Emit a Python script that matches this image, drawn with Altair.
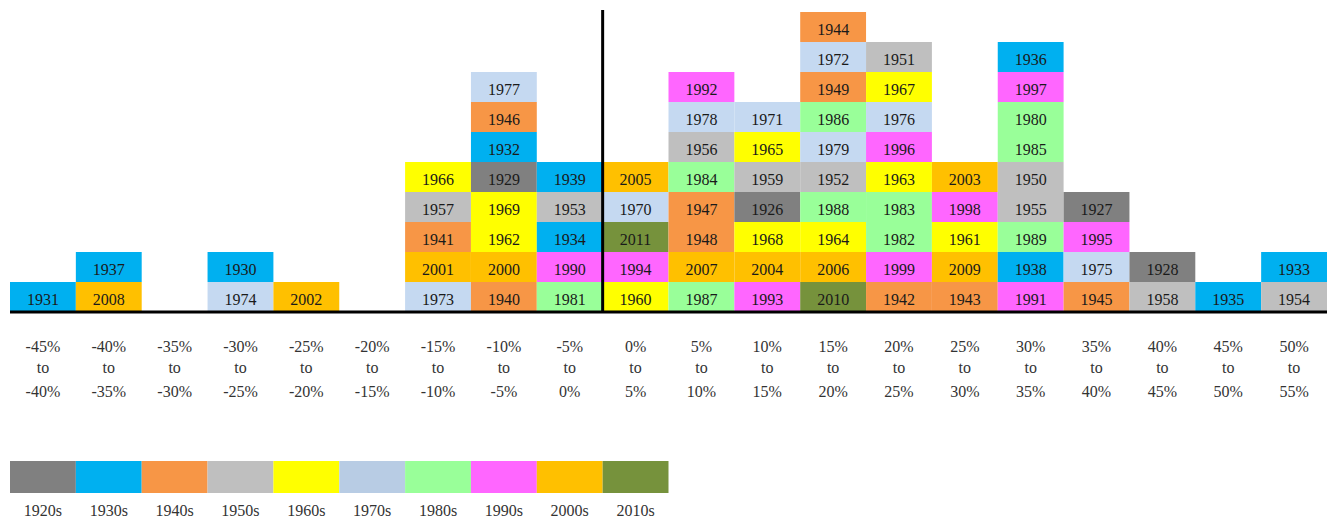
import altair as alt
import pandas as pd

bin_lo = list(range(-45, 55, 5))
columns = [
    [1931],
    [2008, 1937],
    [],
    [1974, 1930],
    [2002],
    [],
    [1973, 2001, 1941, 1957, 1966],
    [1940, 2000, 1962, 1969, 1929, 1932, 1946, 1977],
    [1981, 1990, 1934, 1953, 1939],
    [1960, 1994, 2011, 1970, 2005],
    [1987, 2007, 1948, 1947, 1984, 1956, 1978, 1992],
    [1993, 2004, 1968, 1926, 1959, 1965, 1971],
    [2010, 2006, 1964, 1988, 1952, 1979, 1986, 1949, 1972, 1944],
    [1942, 1999, 1982, 1983, 1963, 1996, 1976, 1967, 1951],
    [1943, 2009, 1961, 1998, 2003],
    [1991, 1938, 1989, 1955, 1950, 1985, 1980, 1997, 1936],
    [1945, 1975, 1995, 1927],
    [1958, 1928],
    [1935],
    [1954, 1933],
]
decades = ["1920s", "1930s", "1940s", "1950s", "1960s",
           "1970s", "1980s", "1990s", "2000s", "2010s"]
box_colors = ["#808080", "#00B0F0", "#F79646", "#BFBFBF", "#FFFF00",
              "#C5D9F1", "#99FF99", "#FF66FF", "#FFC000", "#76923C"]
legend_colors = ["#808080", "#00B0F0", "#F79646", "#BFBFBF", "#FFFF00",
                 "#B8CCE4", "#99FF99", "#FF66FF", "#FFC000", "#76923C"]

FONT = "Liberation Serif"

rows = []
for i, col in enumerate(columns):
    for j, yr in enumerate(col):
        rows.append({"lo": bin_lo[i], "hi": bin_lo[i] + 5, "mid": bin_lo[i] + 2.5,
                     "row": j, "row2": j + 1, "rowc": j + 0.5,
                     "year": str(yr), "decade": f"{yr // 10 * 10}s"})
boxes = pd.DataFrame(rows)

labels = pd.DataFrame({
    "mid": [b + 2.5 for b in bin_lo],
    "l1": [f"{b}%" for b in bin_lo],
    "l2": ["to"] * len(bin_lo),
    "l3": [f"{b + 5}%" for b in bin_lo],
})

legend = pd.DataFrame({
    "decade": decades,
    "lo": bin_lo[:len(decades)],
    "hi": [b + 5 for b in bin_lo[:len(decades)]],
    "mid": [b + 2.5 for b in bin_lo[:len(decades)]],
})

xs = alt.Scale(domain=[-45, 55], range=[2, 1319])
ys = alt.Scale(domain=[0, 10], range=[304, 4])
noax = None

rects = alt.Chart(boxes).mark_rect(strokeWidth=0).encode(
    x=alt.X("lo:Q", scale=xs, axis=noax),
    x2="hi:Q",
    y=alt.Y("row:Q", scale=ys, axis=noax),
    y2="row2:Q",
    color=alt.Color("decade:N", scale=alt.Scale(domain=decades, range=box_colors), legend=None),
)
texts = alt.Chart(boxes).mark_text(font=FONT, fontSize=16, color="#1a1a1a",
                                   baseline="middle", dy=3).encode(
    x=alt.X("mid:Q", scale=xs, axis=noax),
    y=alt.Y("rowc:Q", scale=ys, axis=noax),
    text="year:N",
)

lab_layers = []
for field, yv in [("l1", -1.333), ("l2", -2.033), ("l3", -2.833)]:
    lab_layers.append(
        alt.Chart(labels).mark_text(font=FONT, fontSize=16, color="#333333",
                                    baseline="alphabetic").transform_calculate(
            yy=str(yv)).encode(
            x=alt.X("mid:Q", scale=xs, axis=noax),
            y=alt.Y("yy:Q", scale=ys, axis=noax),
            text=f"{field}:N",
        )
    )

base_df = pd.DataFrame({"x": [-45], "x2": [55], "y": [0]})
baseline = alt.Chart(base_df).mark_rule(color="black", strokeWidth=3).encode(
    x=alt.X("x:Q", scale=xs, axis=noax), x2="x2:Q",
    y=alt.Y("y:Q", scale=ys, axis=noax),
)
zero_df = pd.DataFrame({"x": [0], "y": [0], "y2": [10.07]})
zero = alt.Chart(zero_df).mark_rule(color="black", strokeWidth=3).encode(
    x=alt.X("x:Q", scale=xs, axis=noax),
    y=alt.Y("y:Q", scale=ys, axis=noax), y2="y2:Q",
)

leg_rect = alt.Chart(legend).mark_rect(strokeWidth=0).transform_calculate(
    ya="-4.967", yb="-6.033").encode(
    x=alt.X("lo:Q", scale=xs, axis=noax), x2="hi:Q",
    y=alt.Y("ya:Q", scale=ys, axis=noax), y2="yb:Q",
    color=alt.Color("decade:N", scale=alt.Scale(domain=decades, range=legend_colors), legend=None),
)
leg_text = alt.Chart(legend).mark_text(font=FONT, fontSize=16, color="#333333",
                                       baseline="alphabetic").transform_calculate(
    yy="-6.8").encode(
    x=alt.X("mid:Q", scale=xs, axis=noax),
    y=alt.Y("yy:Q", scale=ys, axis=noax),
    text="decade:N",
)

chart = alt.layer(rects, texts, *lab_layers, baseline, zero, leg_rect, leg_text).resolve_scale(
    color="independent"
).properties(
    width=1319, height=511, padding=0, autosize="none",
).configure_view(stroke=None)

chart.save("out.html", embed_options={"renderer": "svg", "actions": False})
